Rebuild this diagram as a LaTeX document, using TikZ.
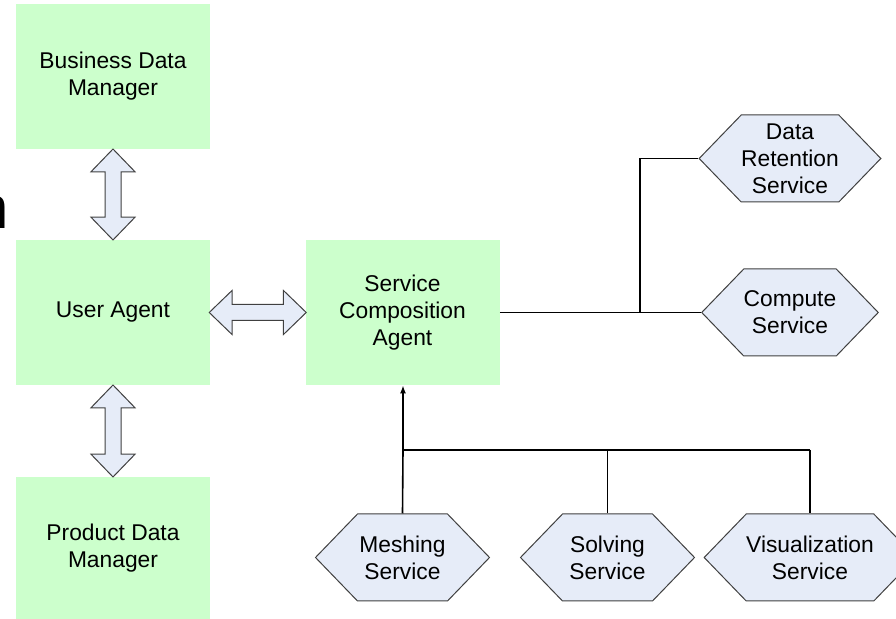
\documentclass[tikz,border=0pt]{standalone}
\usepackage{fontspec}
\setmainfont{Liberation Sans}
\usetikzlibrary{calc,shapes.symbols,shapes.arrows,arrows.meta}
\definecolor{boxgreen}{HTML}{CCFFCC}
\definecolor{svcblue}{HTML}{E6ECF8}
\definecolor{edgegray}{HTML}{404040}
\tikzset{
  agentbox/.style={fill=boxgreen, minimum width=97pt, minimum height=72.5pt, inner sep=0pt, align=center, font=\fontsize{11.4}{13.4}\selectfont},
  svc/.style={shape=signal, signal to=west and east, signal pointer angle=92, draw=edgegray, fill=svcblue, line width=0.5pt, minimum width=87pt, minimum height=43.5pt, inner sep=0pt, align=center, font=\fontsize{11.4}{13.4}\selectfont},
  twoway/.style={double arrow, draw=edgegray, fill=svcblue, line width=0.5pt, inner sep=3.75pt, minimum width=21.5pt, double arrow head extend=7pt, double arrow tip angle=88},
  link/.style={line width=0.8pt}
}
\begin{document}
\begin{tikzpicture}[x=0.5pt,y=-0.5pt]
				\useasboundingbox (0,0) rectangle (896,619);
				
				% cut off letter on the left edge
				\node[anchor=base east, inner sep=0pt, font=\fontsize{30}{30}\selectfont] (cut) at (9,229) {n};
				
				% agents
				\node[agentbox] (bdm) at (113,76.5) {Business Data\\Manager};
				\node[agentbox] (ua) at (113,312.5) {User Agent};
				\node[agentbox, minimum height=71pt] (pdm) at (113,548) {Product Data\\Manager};
				\node[agentbox] (sca) at (402.5,312.5) {Service\\Composition\\Agent};
				
				% services
				\node[svc] (dr) at (790,158.5) {Data\\Retention\\Service};
				\node[svc] (cs) at (790,312.5) {Compute\\Service};
				\node[svc] (mesh) at (402.5,557.5) {Meshing\\Service};
				\node[svc] (solve) at (607.5,557.5) {Solving\\Service};
				\node[svc] (vis) at (810,557.5) {Visualization\\Service};
				
				% two way arrows
				\node[twoway, minimum height=45.5pt, rotate=90] (up) at ($(bdm.south)!0.5!(ua.north)$) {};
				\node[twoway, minimum height=46pt, rotate=90] (down) at ($(ua.south)!0.5!(pdm.north)$) {};
				\node[twoway, minimum height=48.5pt] (side) at ($(ua.east)!0.5!(sca.west)$) {};
				
				% links
				\coordinate (jr) at (640,312.5);
				\coordinate (jb) at (403,450);
				\draw[link] (sca.east) -- (cs.west);
				\draw[link] (jr) |- (dr.west);
				\draw[link, -{Latex[length=4pt,width=3pt]}] (jb) -- (jb |- sca.south);
				\draw[link] (jb) -- (jb -| vis.north);
				\draw[link] (jb) -- (mesh.north);
				\draw[link] (jb -| solve.north) -- (solve.north);
				\draw[link] (jb -| vis.north) -- (vis.north);
\end{tikzpicture}
\end{document}
